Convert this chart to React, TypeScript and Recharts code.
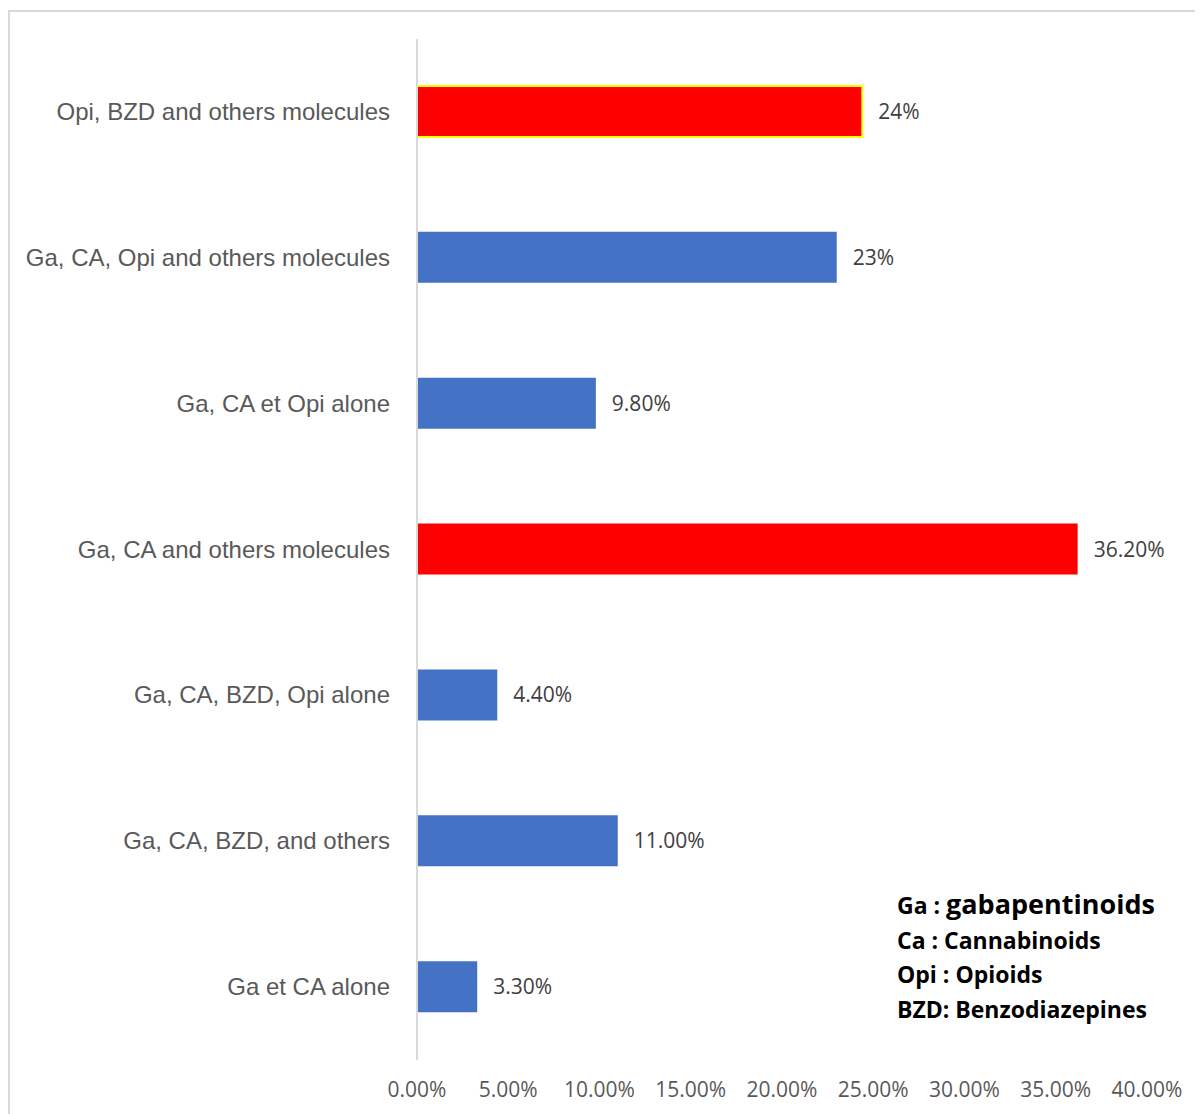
import React from 'react';
import { BarChart, Bar, XAxis, YAxis, Cell, LabelList } from 'recharts';

const categories = [
  'Opi, BZD and others molecules',
  'Ga, CA, Opi and others molecules',
  'Ga, CA et Opi alone',
  'Ga, CA and others molecules',
  'Ga, CA, BZD, Opi alone',
  'Ga, CA, BZD,  and others',
  'Ga et CA alone',
];
const shares = [24.4, 23, 9.8, 36.2, 4.4, 11, 3.3];
const shareLabels = ['24%', '23%', '9.80%', '36.20%', '4.40%', '11.00%', '3.30%'];
const xTicks = [0, 5, 10, 15, 20, 25, 30, 35, 40];
const redCategories = ['Opi, BZD and others molecules', 'Ga, CA and others molecules'];
const outlinedCategories = ['Opi, BZD and others molecules'];

const data = categories.map((name, i) => ({ name, value: shares[i], label: shareLabels[i] }));

const CategoryTick = (props: any) => {
  const { x, y, payload } = props;
  return (
    <text x={x} y={y} dy={8} textAnchor="end" fill="#595959" fontSize={24} fontFamily="'Liberation Sans', Arial, sans-serif">
      {payload.value}
    </text>
  );
};

const App: React.FC = () => {
  return (
    <div style={{ position: 'relative', marginTop: 2, width: 1195, height: 1104, borderTop: '2px solid #d9d9d9', borderLeft: '2px solid #d9d9d9', boxSizing: 'border-box' }}>
      <BarChart
        width={1193}
        height={1102}
        data={data}
        layout="vertical"
        margin={{ top: 27, right: 56, left: 0, bottom: 0 }}
        barSize={51}
      >
        <XAxis
          type="number"
          domain={[0, 40]}
          ticks={xTicks}
          tickFormatter={(v: number) => v.toFixed(2) + '%'}
          axisLine={false}
          tickLine={false}
          tickSize={0}
          tickMargin={22}
          height={54}
          tick={{ fill: '#595959', fontSize: 21, fontFamily: "'Open Sans', sans-serif" }}
          interval={0}
        />
        <YAxis
          type="category"
          dataKey="name"
          width={407}
          axisLine={{ stroke: '#d9d9d9', strokeWidth: 2 }}
          tickLine={false}
          tickSize={0}
          tickMargin={27}
          tick={<CategoryTick />}
          interval={0}
        />
        <Bar dataKey="value" isAnimationActive={false}>
          {data.map((d) => (
            <Cell
              key={d.name}
              fill={redCategories.includes(d.name) ? '#FF0000' : '#4472C4'}
              stroke={outlinedCategories.includes(d.name) ? '#FFFF00' : 'none'}
              strokeWidth={outlinedCategories.includes(d.name) ? 2 : 0}
            />
          ))}
          <LabelList
            dataKey="label"
            position="right"
            offset={16}
            fill="#404040"
            fontSize={21}
            fontFamily="'Open Sans', sans-serif"
          />
        </Bar>
      </BarChart>
      <div style={{ position: 'absolute', left: 887, top: 875, fontFamily: "'Open Sans', sans-serif", fontWeight: 700, color: '#000', fontSize: 23, lineHeight: '34.5px' }}>
        <div>Ga : <span style={{ fontSize: 27 }}>gabapentinoids</span></div>
        <div>Ca : Cannabinoids</div>
        <div>Opi : Opioids</div>
        <div>BZD: Benzodiazepines</div>
      </div>
    </div>
  );
};

export default App;
